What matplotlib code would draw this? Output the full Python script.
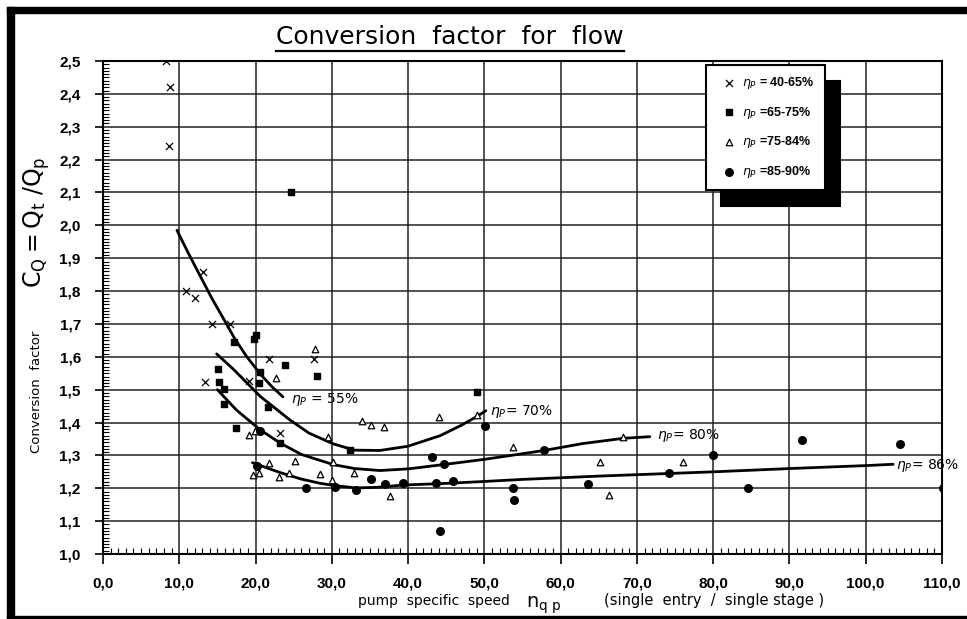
import matplotlib
matplotlib.use("Agg")
import matplotlib.pyplot as plt
from matplotlib.patches import Rectangle
from matplotlib.lines import Line2D
from matplotlib.ticker import MultipleLocator

# ---- data ----
# eta_p = 40-65 %  (crosses)
x_4065 = [8.2, 8.8, 8.6, 13.1, 10.9, 12.1, 14.3, 16.7, 21.8, 27.7, 13.4, 19.1, 23.2]
y_4065 = [2.50, 2.42, 2.24, 1.857, 1.80, 1.78, 1.70, 1.70, 1.593, 1.593, 1.524, 1.526, 1.367]

# eta_p = 65-75 %  (filled squares)
x_6575 = [24.7, 17.2, 19.8, 20.1, 23.9, 28.1, 15.1, 15.2, 15.9, 15.9, 20.5, 20.6,
          21.7, 17.5, 23.2, 32.4, 49.1]
y_6575 = [2.10, 1.645, 1.653, 1.666, 1.575, 1.543, 1.562, 1.523, 1.501, 1.456, 1.519, 1.555,
          1.448, 1.383, 1.337, 1.317, 1.494]

# eta_p = 75-84 %  (open triangles)
x_7584 = [27.8, 22.7, 19.1, 19.9, 29.5, 34.0, 35.1, 36.9, 44.0, 49.0, 21.8, 25.2, 30.2,
          19.7, 20.5, 23.1, 24.4, 28.4, 32.9, 30.0, 37.6, 53.8, 68.2, 65.1, 76.1, 66.4]
y_7584 = [1.623, 1.535, 1.362, 1.375, 1.357, 1.406, 1.393, 1.385, 1.416, 1.423, 1.278, 1.284, 1.279,
          1.241, 1.246, 1.235, 1.246, 1.244, 1.246, 1.226, 1.175, 1.327, 1.355, 1.281, 1.279, 1.180]

# eta_p = 85-90 %  (filled circles)
x_8590 = [20.6, 20.2, 26.6, 30.4, 33.2, 35.1, 37.0, 39.4, 43.7, 45.9, 43.1, 44.7, 50.1,
          57.8, 91.6, 104.5, 80.0, 53.8, 53.9, 63.6, 74.2, 84.6, 110.2, 44.2]
y_8590 = [1.375, 1.269, 1.202, 1.205, 1.195, 1.228, 1.213, 1.215, 1.215, 1.222, 1.296, 1.274, 1.388,
          1.315, 1.347, 1.335, 1.30, 1.200, 1.164, 1.213, 1.245, 1.202, 1.20, 1.07]

# hand drawn fit curves
c55_x = [9.7, 11.2, 12.7, 14.3, 16.0, 17.2, 18.8, 20.6, 22.2, 23.6]
c55_y = [1.985, 1.915, 1.848, 1.777, 1.708, 1.658, 1.602, 1.548, 1.508, 1.478]

c70_x = [14.9, 17.2, 20.6, 24.5, 27.0, 30.2, 33.0, 36.3, 40.0, 44.2, 47.0, 49.0, 50.2]
c70_y = [1.609, 1.56, 1.48, 1.408, 1.368, 1.335, 1.316, 1.315, 1.328, 1.36, 1.392, 1.418, 1.436]

c80_x = [15.0, 17.5, 20.6, 23.2, 26.0, 30.2, 33.0, 36.3, 40.0, 44.6, 50.0, 53.8, 57.8, 62.9, 68.2, 71.7]
c80_y = [1.50, 1.438, 1.378, 1.338, 1.303, 1.272, 1.26, 1.254, 1.259, 1.272, 1.288, 1.301, 1.315, 1.336, 1.352, 1.357]

c86_x = [19.6, 21.5, 23.2, 26.0, 28.5, 30.4, 33.2, 36.0, 39.4, 44.2, 49.4, 55.0, 60.0, 65.0, 74.2, 80.0, 90.0, 100.0, 103.6]
c86_y = [1.278, 1.262, 1.248, 1.228, 1.215, 1.208, 1.201, 1.203, 1.21, 1.214, 1.22, 1.227, 1.232, 1.237, 1.245, 1.25, 1.26, 1.269, 1.273]

curve_labels = [r"$\eta_P$ = 55%", r"$\eta_P$= 70%", r"$\eta_P$= 80%", r"$\eta_P$= 86%"]
curve_label_pos = [(24.7, 1.47), (50.7, 1.435), (72.6, 1.362), (104.0, 1.27)]

legend_labels = [r"$\eta_P$ = 40-65%", r"$\eta_P$ =65-75%", r"$\eta_P$ =75-84%", r"$\eta_P$ =85-90%"]

x_ticks = [0, 10, 20, 30, 40, 50, 60, 70, 80, 90, 100, 110]
x_ticklabels = ["0,0", "10,0", "20,0", "30,0", "40,0", "50,0", "60,0", "70,0", "80,0",
                "90,0", "100,0", "110,0"]
y_ticks = [1.0, 1.1, 1.2, 1.3, 1.4, 1.5, 1.6, 1.7, 1.8, 1.9, 2.0, 2.1, 2.2, 2.3, 2.4, 2.5]
y_ticklabels = ["1,0", "1,1", "1,2", "1,3", "1,4", "1,5", "1,6", "1,7", "1,8", "1,9",
                "2,0", "2,1", "2,2", "2,3", "2,4", "2,5"]

# ---- figure ----
fig = plt.figure(figsize=(9.67, 6.19), dpi=100)
ax = fig.add_axes([0.1065, 0.105, 0.8676, 0.7964])

ax.set_xlim(0, 110)
ax.set_ylim(1.0, 2.5)
ax.set_xticks(x_ticks)
ax.set_xticklabels(x_ticklabels)
ax.set_yticks(y_ticks)
ax.set_yticklabels(y_ticklabels)
ax.xaxis.set_minor_locator(MultipleLocator(1))
ax.yaxis.set_minor_locator(MultipleLocator(0.01))
ax.grid(True, which="major", color="#222222", linewidth=1.1)
ax.set_axisbelow(True)
for s in ax.spines.values():
    s.set_linewidth(1.5)

tickfont = dict(family="Liberation Sans", weight="bold", size=11)
for lab in ax.get_xticklabels() + ax.get_yticklabels():
    lab.set_fontproperties(matplotlib.font_manager.FontProperties(**tickfont))
ax.tick_params(axis="y", which="major", direction="out", length=6, width=1.2, pad=10)
ax.tick_params(axis="x", which="major", direction="out", length=7, width=1.2, pad=9)
ax.tick_params(axis="both", which="minor", direction="in", length=4, width=0.8)

# curves
for cx, cy in [(c55_x, c55_y), (c70_x, c70_y), (c80_x, c80_y), (c86_x, c86_y)]:
    ax.plot(cx, cy, color="black", linewidth=2.0, solid_capstyle="round",
            solid_joinstyle="round", zorder=3)

# scatter points
h1 = ax.scatter(x_4065, y_4065, marker="x", s=26, color="black", linewidths=0.9, zorder=4)
h2 = ax.scatter(x_6575, y_6575, marker="s", s=24, color="black", zorder=4)
h3 = ax.scatter(x_7584, y_7584, marker="^", s=22, facecolors="white", edgecolors="black",
                linewidths=0.9, zorder=4)
h4 = ax.scatter(x_8590, y_8590, marker="o", s=30, color="black", zorder=4)

for txt, (lx, ly) in zip(curve_labels, curve_label_pos):
    ax.text(lx, ly, txt, fontsize=10, ha="left", va="center", zorder=5)

leg = ax.legend([h1, h2, h3, h4], legend_labels, loc="upper left",
                bbox_to_anchor=(0.719, 0.992), fancybox=False, framealpha=1,
                edgecolor="black", prop=dict(family="Liberation Sans", weight="bold", size=9),
                labelspacing=1.1, borderpad=0.8, handlelength=2.0, handletextpad=0.1,
                borderaxespad=0, shadow={"ox": 10.5, "oy": -11.5, "color": "black", "alpha": 1})
leg.get_frame().set_linewidth(1.5)

# axis labels
fig.text(0.038, 0.641, r"$\mathregular{C_Q = Q_t\ /Q_p}$", rotation=90, fontsize=17,
         ha="center", va="center")
fig.text(0.038, 0.367, "Conversion  factor", rotation=90, fontsize=9.5,
         ha="center", va="center")

fig.text(510 / 967, 1 - 601 / 619, "pump  specific  speed", fontsize=10, ha="right", va="center")
fig.text(526 / 967, 1 - 605 / 619, r"$\mathregular{n_{q\ p}}$", fontsize=14, ha="left", va="center")
fig.text(604 / 967, 1 - 601 / 619, "(single  entry  /  single stage )", fontsize=10.5,
         ha="left", va="center")

title = fig.text(450 / 967, 1 - 37 / 619, "Conversion  factor  for  flow", fontsize=18,
                 ha="center", va="center")

# underline the title
fig.canvas.draw()
bb = title.get_window_extent().transformed(fig.transFigure.inverted())
fig.add_artist(Line2D([bb.x0, bb.x1], [bb.y0 - 0.004, bb.y0 - 0.004], color="black",
                      linewidth=1.6, transform=fig.transFigure))

# scanned page frame
fig.add_artist(Rectangle((7 / 967, 0), 7 / 967, 1 - 7 / 619, color="black",
                         transform=fig.transFigure))
fig.add_artist(Rectangle((7 / 967, 1 - 13 / 619), 960 / 967, 6 / 619, color="black",
                         transform=fig.transFigure))
fig.add_artist(Rectangle((7 / 967, 1 / 619), 960 / 967, 2 / 619, color="black",
                         transform=fig.transFigure))

fig.savefig("out.png", dpi=100)
